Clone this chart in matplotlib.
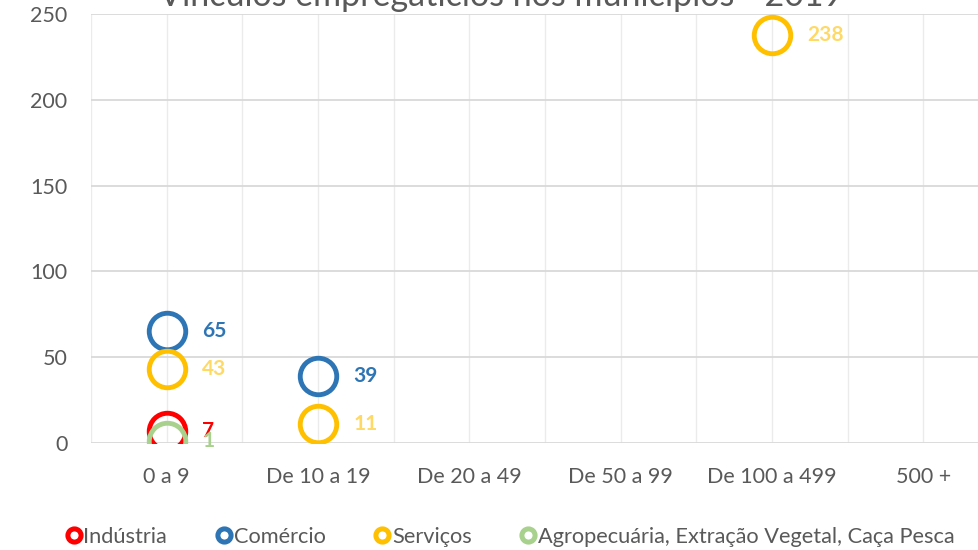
import matplotlib.pyplot as plt
import numpy as np

plt.rcParams['font.family'] = ['Lato', 'DejaVu Sans']

# categories on the x axis
faixas = ['0 a 9', 'De 10 a 19', 'De 20 a 49', 'De 50 a 99', 'De 100 a 499', '500 +']

# values per sector (None = no point)
industria = [7, None, None, None, None, None]
comercio = [65, 39, None, None, None, None]
servicos = [43, 11, None, None, 238, None]
agro = [1, None, None, None, None, None]

series = [
    ('Indústria', industria, '#FF0000', '#FF0000'),
    ('Comércio', comercio, '#2E75B6', '#2E75B6'),
    ('Serviços', servicos, '#FFC000', '#FFD966'),
    ('Agropecuária, Extração Vegetal, Caça Pesca', agro, '#A9D18E', '#A9D18E'),
]

fig = plt.figure(figsize=(9.79, 5.5), dpi=100)
ax = fig.add_axes([91 / 979, 1 - 443 / 550, (999 - 91) / 979, 429 / 550])

for name, vals, color, label_color in series:
    xs = [i for i, v in enumerate(vals) if v is not None]
    ys = [v for v in vals if v is not None]
    ax.plot(xs, ys, linestyle='none', marker='o', markersize=26.3,
            markerfacecolor='none', markeredgecolor=color, markeredgewidth=3.5,
            label=name, zorder=3)
    for x, y in zip(xs, ys):
        ax.annotate(str(y), (x, y), xytext=(25.5, 0), textcoords='offset points',
                    ha='left', va='center', fontsize=15, fontweight='bold',
                    color=label_color, zorder=4)

ax.set_xlim(-0.5, 5.5)
ax.set_ylim(0, 250)
ax.set_xticks(range(len(faixas)))
ax.set_xticklabels(faixas)
ax.set_xticks(np.arange(-0.5, 5.6, 0.5), minor=True)
ax.set_yticks(range(0, 251, 50))
ax.grid(True, which='minor', axis='x', color='#EBEBEB', linewidth=1)
ax.grid(True, which='major', axis='x', color='#EBEBEB', linewidth=1)
ax.grid(True, which='major', axis='y', color='#D9D9D9', linewidth=1.3)
ax.set_axisbelow(True)
for s in ax.spines.values():
    s.set_visible(False)
ax.tick_params(axis='both', which='both', length=0, labelsize=15.5, labelcolor='#595959')
ax.tick_params(axis='y', pad=17)
ax.tick_params(axis='x', pad=17)

fig.text(501 / 979, 1 - 6 / 550, 'Vínculos empregatícios nos municípios - 2019',
         ha='center', va='baseline', fontsize=24.5, color='#595959')

handles = [plt.Line2D([], [], linestyle='none', marker='o', markersize=9.5,
                      markerfacecolor='none', markeredgecolor=c, markeredgewidth=3.6)
           for _, _, c, _ in series]
fig.legend(handles, [s[0] for s in series], loc='center', ncol=4,
           bbox_to_anchor=(511 / 979, 1 - 537 / 550), frameon=False,
           fontsize=15.7, labelcolor='#595959', handletextpad=0.15,
           columnspacing=2.3, handlelength=0.6, borderpad=0)

fig.savefig('out.png', dpi=100)
